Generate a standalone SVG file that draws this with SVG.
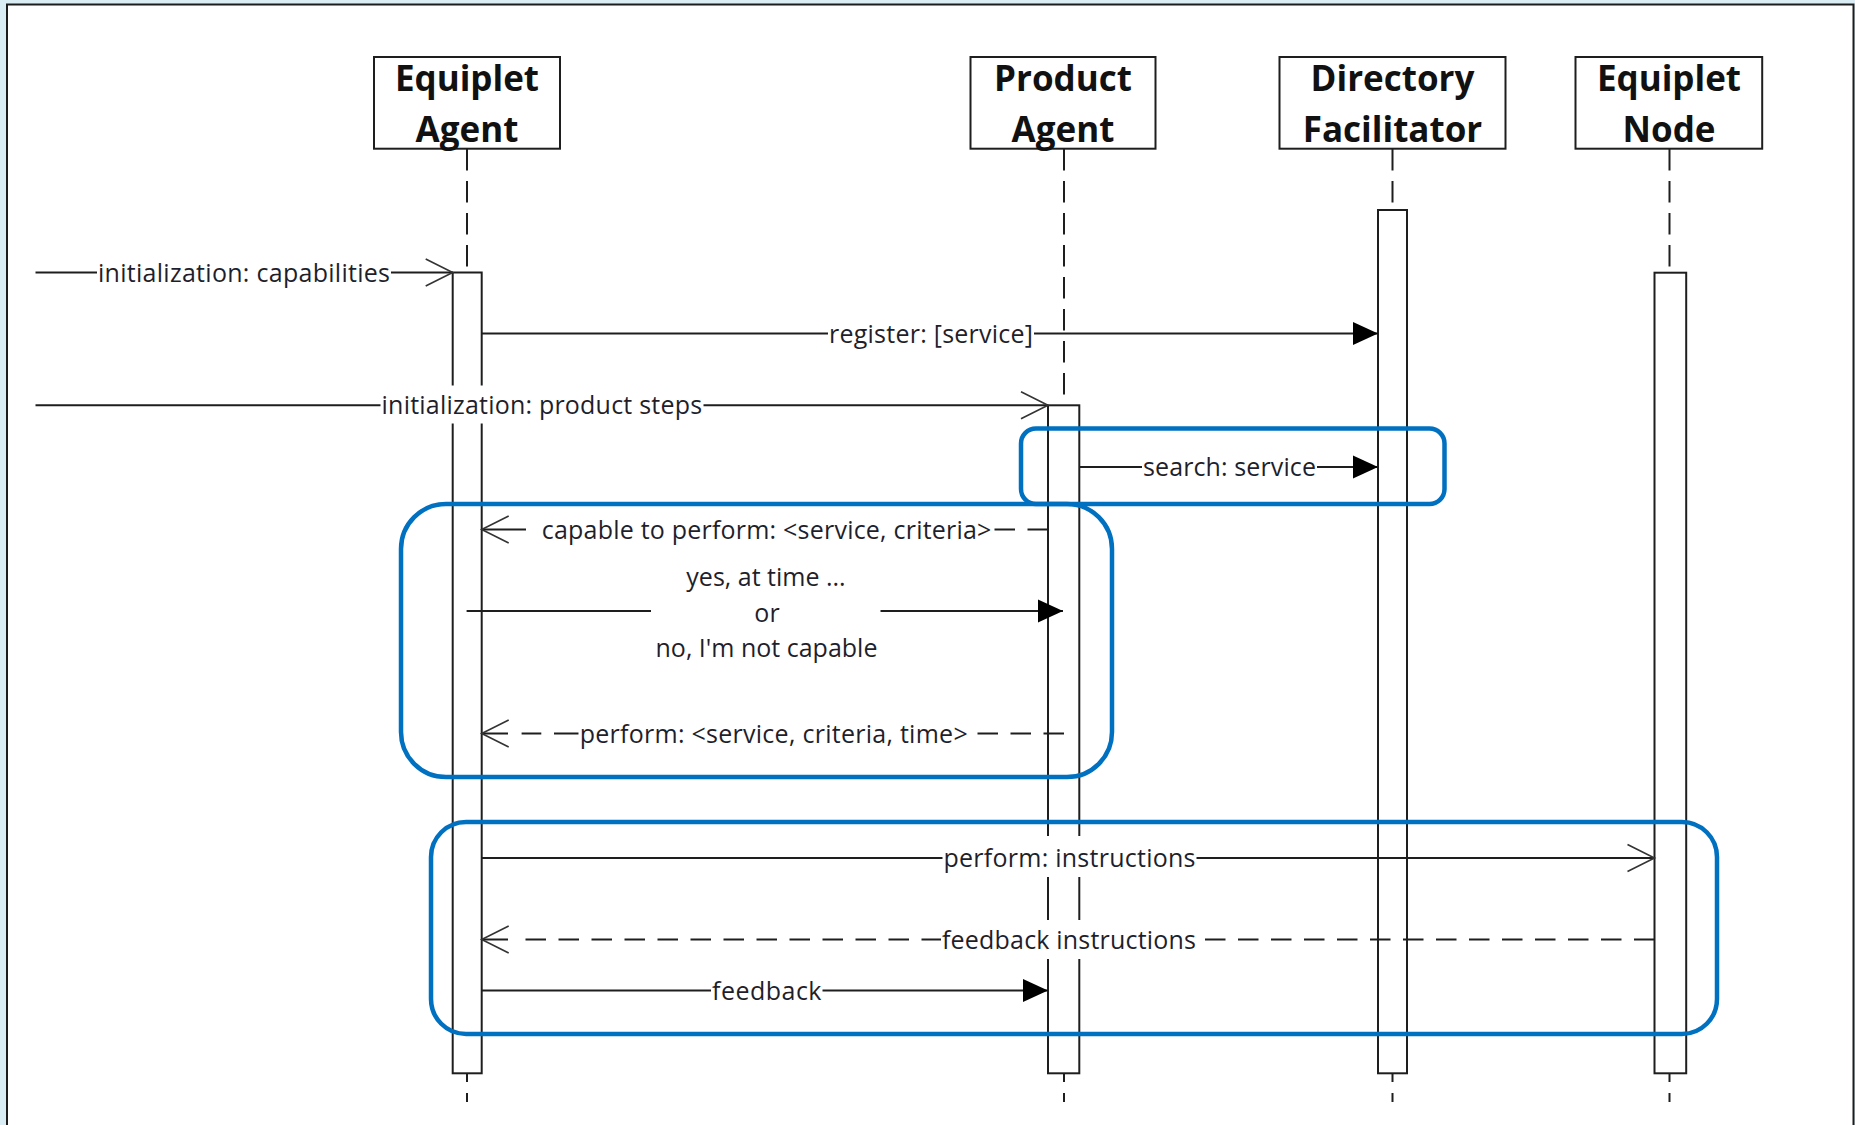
<svg xmlns="http://www.w3.org/2000/svg" width="1855" height="1125" viewBox="0 0 1855 1125">
  <defs>
    <style>
      .head { font-family: "Open Sans", "Liberation Sans", sans-serif; font-weight: 700; font-size: 35px; fill: #111; text-anchor: middle; }
      .lbl { font-family: "Open Sans", "Liberation Sans", sans-serif; font-size: 25px; fill: #1f1f2c; }
      .mid { text-anchor: middle; }
      .box { fill: #fff; stroke: #1e1e1e; stroke-width: 2; }
      .life { fill: none; stroke: #1e1e1e; stroke-width: 2; stroke-dasharray: 21.5 10.5; }
      .bar { fill: #fff; stroke: #1e1e1e; stroke-width: 2; }
      .msg { fill: none; stroke: #1e1e1e; stroke-width: 2; }
      .dash { fill: none; stroke: #1e1e1e; stroke-width: 2; stroke-dasharray: 20.5 12.5; }
      .open { marker-end: url(#openArrow); }
      .solid { marker-end: url(#filledArrow); }
      .bg { fill: #fff; }
      .frame { fill: none; stroke: #0070c0; stroke-width: 4.5; }
    </style>
    <marker id="openArrow" markerUnits="userSpaceOnUse" orient="auto" refX="0" refY="0" markerWidth="30" markerHeight="30" overflow="visible">
      <path d="M -27 -13.5 L 0 0 L -27 13.5" fill="none" stroke="#333" stroke-width="1.6" stroke-dasharray="none"/>
    </marker>
    <marker id="filledArrow" markerUnits="userSpaceOnUse" orient="auto" refX="0" refY="0" markerWidth="30" markerHeight="30" overflow="visible">
      <path d="M -25 -11.5 L 0 0 L -25 11.5 Z" fill="#000" stroke="none"/>
    </marker>
  </defs>

  <!-- page background and sheet -->
  <rect x="0" y="0" width="1855" height="1125" fill="#dbedf4"/>
  <rect x="7" y="4.5" width="1846.5" height="1200" fill="#fff" stroke="#1c1c1c" stroke-width="2"/>

  <!-- lifelines with activation bars -->
  <g id="equiplet-agent">
    <rect class="box" x="374" y="57" width="186" height="91.7"/>
    <text class="head" x="467" y="91">Equiplet</text>
    <text class="head" x="467" y="141.5">Agent</text>
    <line class="life" x1="467" y1="149" x2="467" y2="272.5"/>
    <rect class="bar" x="452.7" y="272.5" width="29" height="800.8"/>
    <path class="msg" d="M467 1073.3 V1082 M467 1093 V1102"/>
  </g>

  <g id="product-agent">
    <rect class="box" x="970.5" y="57" width="185" height="91.7"/>
    <text class="head" x="1063" y="91">Product</text>
    <text class="head" x="1063" y="141.5">Agent</text>
    <line class="life" x1="1064" y1="149" x2="1064" y2="405.3"/>
    <rect class="bar" x="1048" y="405.3" width="31.3" height="668"/>
    <path class="msg" d="M1064 1073.3 V1082 M1064 1093 V1102"/>
  </g>

  <g id="directory-facilitator">
    <rect class="box" x="1279.5" y="57" width="226" height="91.7"/>
    <text class="head" x="1392.5" y="91">Directory</text>
    <text class="head" x="1392.5" y="141.5">Facilitator</text>
    <line class="life" x1="1392.5" y1="149" x2="1392.5" y2="210"/>
    <rect class="bar" x="1378" y="210" width="29" height="863.3"/>
    <path class="msg" d="M1392.5 1073.3 V1082 M1392.5 1093 V1102"/>
  </g>

  <g id="equiplet-node">
    <rect class="box" x="1575.5" y="57" width="186.7" height="91.7"/>
    <text class="head" x="1669" y="91">Equiplet</text>
    <text class="head" x="1669" y="141.5">Node</text>
    <line class="life" x1="1669.5" y1="149" x2="1669.5" y2="272.7"/>
    <rect class="bar" x="1654.5" y="272.7" width="31.7" height="800.6"/>
    <path class="msg" d="M1669.5 1073.3 V1082 M1669.5 1093 V1102"/>
  </g>

  <!-- messages -->
  <g id="connectors">
    <line class="msg open" x1="35.5" y1="272.5" x2="452.7" y2="272.5"/>
    <line class="msg solid" x1="481.7" y1="333.5" x2="1378" y2="333.5"/>
    <line class="msg open" x1="35.5" y1="405.3" x2="1048" y2="405.3"/>
    <line class="msg solid" x1="1079.3" y1="467" x2="1378" y2="467"/>

    <!-- capable to perform (reply, dashed) -->
    <path class="dash" d="M1048 529.5 H994"/>
    <path class="msg open" d="M526 529.5 H481.7"/>

    <line class="msg solid" x1="466.6" y1="611" x2="1063" y2="611"/>

    <!-- perform: service, criteria, time (reply, dashed) -->
    <path class="dash" d="M1064 733.5 H968"/>
    <path class="msg open" d="M579.7 733.5 H554 M541.3 733.5 H521.6 M508 733.5 H481.7"/>

    <line class="msg open" x1="481.7" y1="858" x2="1654.5" y2="858"/>

    <!-- feedback instructions (reply, dashed) -->
    <path class="dash" d="M1654.5 939.5 H1196"/>
    <path class="dash" d="M942 939.5 H520"/>
    <path class="msg open" d="M508 939.5 H481.7"/>

    <line class="msg solid" x1="481.7" y1="990.5" x2="1048" y2="990.5"/>

    <!-- message labels, each on a white plate -->
    <rect class="bg" x="97" y="252.5" width="294" height="39"/>
    <text class="lbl" x="98" y="281.5" textLength="292" lengthAdjust="spacing">initialization: capabilities</text>

    <rect class="bg" x="828" y="313.5" width="206" height="39"/>
    <text class="lbl" x="829" y="342.5" textLength="204" lengthAdjust="spacing">register: [service]</text>

    <rect class="bg" x="380.5" y="385.5" width="323" height="38"/>
    <text class="lbl" x="381.6" y="414.3" textLength="320.5" lengthAdjust="spacing">initialization: product steps</text>

    <rect class="bg" x="1142" y="447" width="175" height="39"/>
    <text class="lbl" x="1143" y="476" textLength="173" lengthAdjust="spacing">search: service</text>

    <rect class="bg" x="540.5" y="509.5" width="452" height="39"/>
    <text class="lbl" x="541.7" y="538.5" textLength="449.7" lengthAdjust="spacing">capable to perform: &lt;service, criteria&gt;</text>

    <rect class="bg" x="651" y="562" width="229.5" height="102"/>
    <text class="lbl mid" x="766" y="586">yes, at time ...</text>
    <text class="lbl mid" x="767" y="621.5">or</text>
    <text class="lbl mid" x="766.5" y="657">no, I'm not capable</text>

    <rect class="bg" x="578.5" y="713.5" width="390" height="39"/>
    <text class="lbl" x="579.7" y="742.5" textLength="388" lengthAdjust="spacing">perform: &lt;service, criteria, time&gt;</text>

    <rect class="bg" x="942.5" y="836" width="254" height="41"/>
    <text class="lbl" x="943.5" y="867" textLength="252" lengthAdjust="spacing">perform: instructions</text>

    <rect class="bg" x="941" y="920" width="256" height="39"/>
    <text class="lbl" x="942" y="948.5" textLength="254" lengthAdjust="spacing">feedback instructions</text>

    <rect class="bg" x="711" y="971" width="111.5" height="39"/>
    <text class="lbl" x="712" y="999.5" textLength="109.5" lengthAdjust="spacing">feedback</text>
  </g>

  <!-- highlighted interaction groups -->
  <g id="highlights">
    <rect class="frame" x="1021" y="428.5" width="423.5" height="75.5" rx="15"/>
    <rect class="frame" x="401" y="504" width="711" height="273" rx="45"/>
    <rect class="frame" x="431" y="822" width="1286" height="212" rx="35"/>
  </g>
</svg>
